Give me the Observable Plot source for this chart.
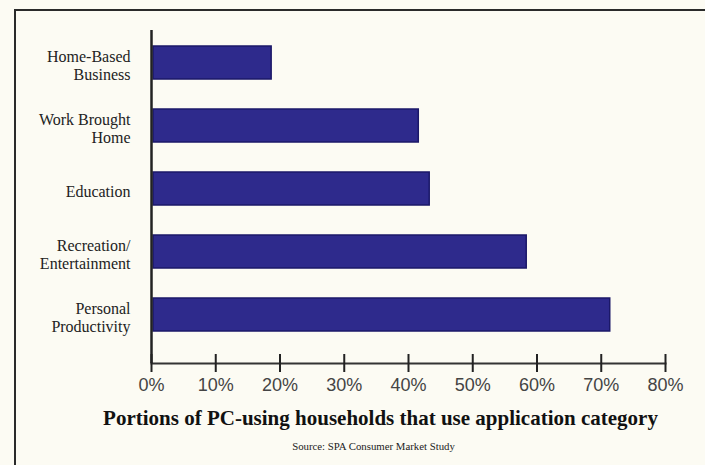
<!DOCTYPE html>
<html>
<head>
<meta charset="utf-8">
<script src="https://cdn.jsdelivr.net/npm/d3@7"></script>
<script src="https://cdn.jsdelivr.net/npm/@observablehq/plot@0.6"></script>
<style>
  html, body { margin: 0; padding: 0; background: #fcfbf3; }
  #wrap { position: relative; width: 705px; height: 465px; overflow: hidden; }
  #frame { position: absolute; left: 14px; top: 9px; width: 700px; height: 470px;
           border-top: 2px solid #2a2a2a; border-left: 2px solid #2a2a2a; }
  #chart { position: absolute; left: 0; top: 0; }
</style>
</head>
<body>
<div id="wrap"><div id="frame"></div><div id="chart"></div></div>
<script>
const categories = ["Home-Based\nBusiness", "Work Brought\nHome", "Education", "Recreation/\nEntertainment", "Personal\nProductivity"];
const values = [18.7, 41.6, 43.3, 58.4, 71.4];
const xTicks = [0, 10, 20, 30, 40, 50, 60, 70, 80];
const titleText = "Portions of PC-using households that use application category";
const sourceText = "Source: SPA Consumer Market Study";

const data = categories.map((c, i) => ({category: c, value: values[i]}));

const chart = Plot.plot({
  width: 705,
  height: 465,
  marginLeft: 151,
  marginRight: 40,
  marginTop: 30,
  marginBottom: 102,
  style: {fontFamily: "Liberation Serif", background: "transparent", color: "#222"},
  x: {domain: [0, 80]},
  y: {domain: categories, paddingInner: 0.48, paddingOuter: 0.25, align: 0.5, insetBottom: 16},
  marks: [
    Plot.barX(data, {x: "value", y: "category", fill: "#2e2a8c", stroke: "#1b1868", strokeWidth: 1.5, insetLeft: 2}),
    Plot.frame({anchor: "bottom", stroke: "#333", strokeWidth: 2}),
    Plot.ruleX([0], {stroke: "#222", strokeWidth: 2.5}),
    Plot.axisX({ticks: xTicks, tickSize: 18, dy: -9, stroke: "#222", strokeWidth: 2, tickFormat: () => "", label: null}),
    Plot.axisX({ticks: xTicks, tickSize: 0, tickPadding: 15, tickFormat: d => d + "%", label: null,
                fontSize: 18, fontFamily: "Liberation Sans", fill: "#444"}),
    Plot.axisY({tickSize: 0, tickPadding: 21, dy: 2, fontSize: 16, lineHeight: 1.16, fill: "#222", label: null}),
    Plot.text([titleText], {text: d => d, frameAnchor: "bottom", dy: 61, dx: -28,
                            fontSize: 21, fontWeight: "bold", fill: "#111"}),
    Plot.text([sourceText], {text: d => d, frameAnchor: "bottom", dy: 86, dx: -35,
                             fontSize: 10.8, fill: "#222"})
  ]
});
document.getElementById("chart").appendChild(chart);
</script>
</body>
</html>
